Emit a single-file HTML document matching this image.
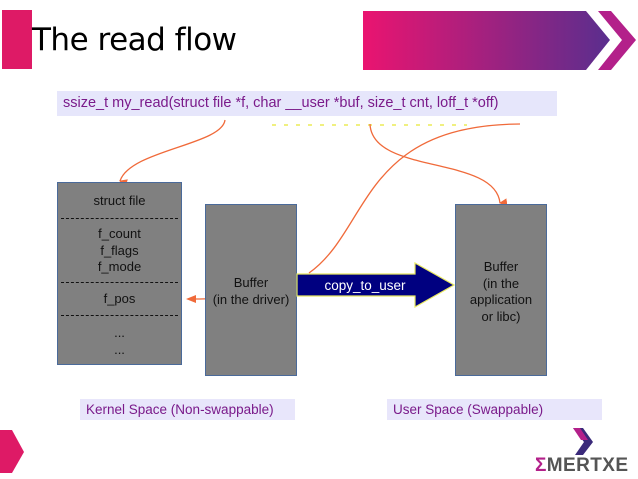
<!DOCTYPE html>
<html><head><style>
body{margin:0;width:638px;height:479px;background:#fff;position:relative;overflow:hidden;font-family:"Liberation Sans",sans-serif}
.a{position:absolute}
.box{position:absolute;background:#808080;border:1px solid #4a6a9a;box-sizing:border-box;color:#111;font-size:13px;text-align:center}
.t{position:absolute;left:0;width:100%;text-align:center;line-height:16px}
.d{position:absolute;left:3px;right:3px;border-top:1px dashed #111}
</style></head><body>
<div class="a" style="left:2px;top:10px;width:30px;height:59px;background:#de1a66"></div>
<div class="a" style="left:32px;top:22px;font-size:31px;font-family:'DejaVu Sans',sans-serif;color:#000;letter-spacing:-0.5px">The read flow</div>
<svg class="a" style="left:0;top:0" width="638" height="479">
<defs><linearGradient id="g" x1="0" x2="1"><stop offset="0" stop-color="#ea1470"/><stop offset="1" stop-color="#5a2e8e"/></linearGradient>
<marker id="m" markerWidth="8" markerHeight="8" refX="4" refY="7" orient="auto-start-reverse" markerUnits="userSpaceOnUse"><path d="M0,0 L8,0 L4,8 z" fill="#f06a3a"/></marker></defs>
<polygon points="363,11 586,11 610,40 586,70 363,70" fill="url(#g)"/>
<polygon points="598,11 611,11 636,40 611,70 598,70 622,40" fill="#b3208a"/>
<polygon points="0,430 12,430 24,452 12,473 0,473" fill="#de1a66"/>
<line x1="272" y1="125" x2="467" y2="125" stroke="#f0f080" stroke-width="2" stroke-dasharray="4,8"/>
<path d="M225,120 C222,145 130,150 120,181" fill="none" stroke="#f06a3a" stroke-width="1.3" marker-end="url(#m)"/>
<path d="M370,124 C372,175 495,155 500,203" fill="none" stroke="#f06a3a" stroke-width="1.3" marker-end="url(#m)"/>
<path d="M309,273 C370,230 360,125 520,124" fill="none" stroke="#f06a3a" stroke-width="1.3"/>
<path d="M297,282 C280,295 240,299 190,299" fill="none" stroke="#f06a3a" stroke-width="1.3"/>
<polygon points="186,299 196,295 196,303" fill="#f06a3a"/>
</svg>
<div class="a" style="left:57px;top:91px;width:500px;height:25px;background:#e6e6fb;color:#7a1a8a;font-size:14.5px;line-height:25px;padding-left:6px;box-sizing:border-box;white-space:nowrap">ssize_t my_read(struct file *f, char __user *buf, size_t cnt, loff_t *off)</div>
<div class="box" style="left:57px;top:182px;width:125px;height:183px">
<div class="t" style="top:10px">struct file</div>
<div class="d" style="top:35px"></div>
<div class="t" style="top:43px">f_count</div>
<div class="t" style="top:60px">f_flags</div>
<div class="t" style="top:76px">f_mode</div>
<div class="d" style="top:99px"></div>
<div class="t" style="top:108px">f_pos</div>
<div class="d" style="top:132px"></div>
<div class="t" style="top:142px">...</div>
<div class="t" style="top:159px">...</div>
</div>
<div class="box" style="left:205px;top:204px;width:92px;height:172px;line-height:17px;padding-top:69px">Buffer<br>(in the driver)</div>
<div class="box" style="left:455px;top:204px;width:92px;height:172px;line-height:16.5px;padding-top:54px">Buffer<br>(in the<br>application<br>or libc)</div>
<svg class="a" style="left:0;top:0" width="638" height="479">
<polygon points="297,274 415,274 415,263 454,285 415,307 415,296 297,296" fill="#000080" stroke="#e8e860" stroke-width="1.2"/>
<text x="365" y="290" font-size="13.5" fill="#fff" text-anchor="middle" font-family="Liberation Sans, sans-serif">copy_to_user</text>
<polygon points="573,428 583,428 593,442 583,455 575,455 584,442" fill="#3a2a7a"/>
<polygon points="573,428 580,428 588,440 581,440" fill="#b3208a"/>
<text x="535" y="471" font-size="19" fill="#555" font-family="Liberation Sans, sans-serif" font-weight="bold" textLength="93"><tspan fill="#b3208a">Σ</tspan>MERTXE</text>
</svg>
<div class="a" style="left:80px;top:399px;width:215px;height:21px;background:#e8e6fb;color:#7a1a8a;font-size:13.5px;line-height:21px;padding-left:6px;box-sizing:border-box">Kernel Space (Non-swappable)</div>
<div class="a" style="left:387px;top:399px;width:215px;height:21px;background:#e8e6fb;color:#7a1a8a;font-size:13.5px;line-height:21px;padding-left:6px;box-sizing:border-box">User Space (Swappable)</div>
</body></html>
